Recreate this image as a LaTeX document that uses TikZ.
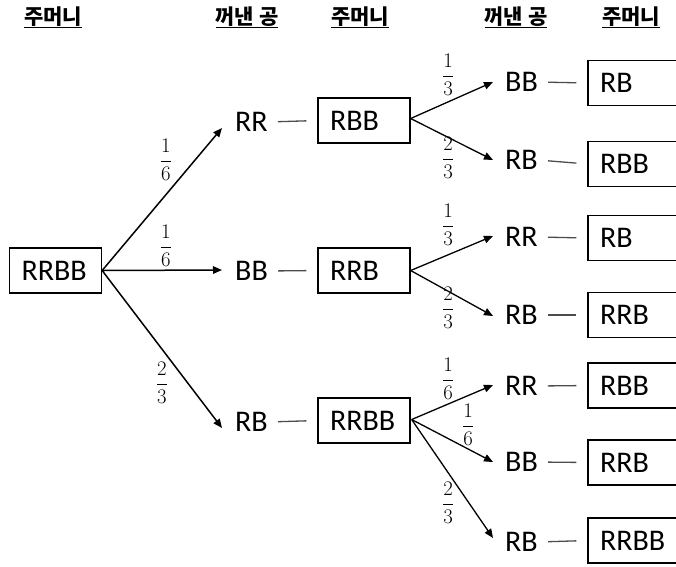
\documentclass[tikz,border=0pt]{standalone}
\usepackage{fontspec}
\setmainfont{Carlito}
\newfontfamily\kr{Noto Sans CJK KR}
\usetikzlibrary{arrows.meta}
\begin{document}
\begin{tikzpicture}[x=1pt,y=-1pt,
  lbl/.style={inner sep=0pt, anchor=west, font=\fontsize{30}{30}\selectfont},
  box/.style={draw, line width=1.3pt, minimum height=45pt, text width=68pt, inner xsep=12pt, inner ysep=0pt, align=left, font=\fontsize{30}{30}\selectfont},
  hdr/.style={inner sep=0pt, anchor=base, font=\kr\bfseries\fontsize{21}{21}\selectfont},
  arr/.style={-{Triangle[length=9pt,width=7.5pt]}, line width=1.5pt},
  arrb/.style={-{Triangle[length=9pt,width=7.5pt]}, line width=1.3pt},
  dsh/.style={line width=1.3pt, gray!60!black, shorten <=10pt, shorten >=11pt},
  fr/.style={inner sep=0pt, font=\fontsize{20}{20}\selectfont}
]
\useasboundingbox (0,0) rectangle (676,566);
% headers
\node[hdr] (h1) at (53,24) {\underline{주머니}};
\node[hdr] (h2) at (247,24) {\underline{꺼낸 공}};
\node[hdr] (h3) at (360,24) {\underline{주머니}};
\node[hdr] (h4) at (516,24) {\underline{꺼낸 공}};
\node[hdr] (h5) at (631,24) {\underline{주머니}};
% root
\node[box] (r) at (55.5,270.5) {RRBB};
% level 1
\node[lbl] (a1) at (235,122) {RR};
\node[lbl] (a2) at (235,271) {BB};
\node[lbl] (a3) at (235,422) {RB};
\node[box] (b1) at (364,120.5) {RBB};
\node[box] (b2) at (364,270.5) {RRB};
\node[box] (b3) at (364,420.5) {RRBB};
% level 2
\node[lbl] (c1) at (505,82) {BB};
\node[lbl] (c2) at (505,160) {RB};
\node[lbl] (c3) at (505,237) {RR};
\node[lbl] (c4) at (505,315) {RB};
\node[lbl] (c5) at (505,386) {RR};
\node[lbl] (c6) at (505,462) {BB};
\node[lbl] (c7) at (505,542) {RB};
\node[box] (d1) at (634,83) {RB};
\node[box] (d2) at (634,164) {RBB};
\node[box] (d3) at (634,238) {RB};
\node[box] (d4) at (634,315) {RRB};
\node[box] (d5) at (634,385.5) {RBB};
\node[box] (d6) at (634,462.5) {RRB};
\node[box] (d7) at (634,540.5) {RRBB};
% arrows level 1
\draw[arr] (r.east) -- ([xshift=-13pt,yshift=-6pt]a1.west);
\draw[arr] (r.east) -- ([xshift=-13pt,yshift=1pt]a2.west);
\draw[arr] (r.east) -- ([xshift=-13pt,yshift=-6pt]a3.west);
% dashes
\draw[dsh] (a1.east) -- (b1.west);
\draw[dsh] (a2.east) -- (b2.west);
\draw[dsh] (a3.east) -- (b3.west);
\draw[dsh] (c1.east) -- (d1.west);
\draw[dsh] (c2.east) -- (d2.west);
\draw[dsh] (c3.east) -- (d3.west);
\draw[dsh] (c4.east) -- (d4.west);
\draw[dsh] (c5.east) -- (d5.west);
\draw[dsh] (c6.east) -- (d6.west);
\draw[dsh] (c7.east) -- (d7.west);
% arrows level 2
\draw[arrb] ([yshift=2pt]b1.east) -- ([xshift=-12pt]c1.west);
\draw[arrb] ([yshift=2pt]b1.east) -- ([xshift=-12pt]c2.west);
\draw[arrb] (b2.east) -- ([xshift=-12pt,yshift=1pt]c3.west);
\draw[arrb] (b2.east) -- ([xshift=-12pt,yshift=-1pt]c4.west);
\draw[arrb] ([xshift=1pt,yshift=1pt]b3.east) -- ([xshift=-12pt,yshift=1pt]c5.west);
\draw[arrb] ([xshift=1pt,yshift=1pt]b3.east) -- ([xshift=-12pt]c6.west);
\draw[arrb] ([xshift=1pt,yshift=1pt]b3.east) -- ([xshift=-12pt,yshift=4pt]c7.west);
% fractions
\node[fr] (f1) at (166,160) {$\displaystyle\frac{1}{6}$};
\node[fr] (f2) at (166,246) {$\displaystyle\frac{1}{6}$};
\node[fr] (f3) at (162,383) {$\displaystyle\frac{2}{3}$};
\node[fr] (f4) at (448,75) {$\displaystyle\frac{1}{3}$};
\node[fr] (f5) at (448,158) {$\displaystyle\frac{2}{3}$};
\node[fr] (f6) at (448,225) {$\displaystyle\frac{1}{3}$};
\node[fr] (f7) at (448,308) {$\displaystyle\frac{2}{3}$};
\node[fr] (f8) at (448,379) {$\displaystyle\frac{1}{6}$};
\node[fr] (f9) at (468,425) {$\displaystyle\frac{1}{6}$};
\node[fr] (f10) at (448,503) {$\displaystyle\frac{2}{3}$};
\end{tikzpicture}
\end{document}
